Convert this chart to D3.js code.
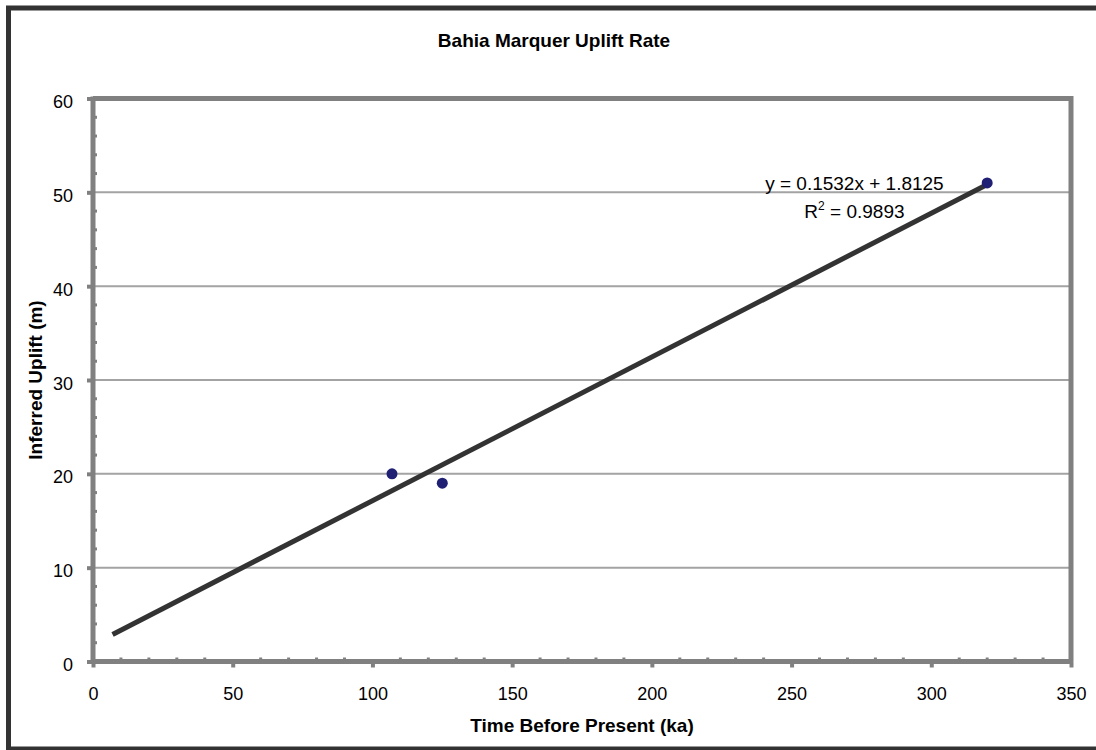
<!DOCTYPE html>
<html>
<head>
<meta charset="utf-8">
<script src="https://cdn.jsdelivr.net/npm/d3@7"></script>
<style>
  html, body { margin: 0; padding: 0; background: #fff; }
  svg { display: block; font-family: "Liberation Sans", Arial, sans-serif; }
</style>
</head>
<body>
<svg id="chart" width="1096" height="750"></svg>
<script>
// Observations: age (ka) and inferred uplift (m)
const timeKa = [107, 125, 320];
const upliftM = [20, 19, 51];

// Linear trendline, extended 100 ka backward from the oldest-first sample
const trendSlope = 0.1532;
const trendIntercept = 1.8125;
const trendFrom = 7;
const trendTo = 320;
const rSquared = 0.9893;

// Axis ticks
const xTicks = [0, 50, 100, 150, 200, 250, 300, 350];
const yTicks = [0, 10, 20, 30, 40, 50, 60];
const xMinorStep = 10;
const yMinorStep = 2;

const titleText = "Bahia Marquer Uplift Rate";
const xLabel = "Time Before Present (ka)";
const yLabel = "Inferred Uplift (m)";

const svg = d3.select("#chart");
const W = 1096, H = 750;
const plot = { left: 93, right: 1071, top: 98.5, bottom: 661.5 };

const x = d3.scaleLinear().domain([0, 350]).range([plot.left, plot.right]);
const y = d3.scaleLinear().domain([0, 60]).range([plot.bottom, plot.top]);

const axisGray = "#808080";
const gridGray = "#a3a3a3";

// Outer chart frame
svg.append("rect")
  .attr("x", 8.5).attr("y", 8)
  .attr("width", 1100).attr("height", 741)
  .attr("fill", "#fff")
  .attr("stroke", "#333").attr("stroke-width", 5);

// Title
svg.append("text")
  .attr("x", 554).attr("y", 47)
  .attr("text-anchor", "middle")
  .attr("font-size", 19).attr("font-weight", "bold")
  .attr("fill", "#000")
  .text(titleText);

// Horizontal gridlines
svg.append("g").selectAll("line")
  .data(yTicks.filter(v => v > 0 && v < 60))
  .join("line")
  .attr("x1", plot.left).attr("x2", plot.right)
  .attr("y1", d => y(d)).attr("y2", d => y(d))
  .attr("stroke", gridGray).attr("stroke-width", 2);

// Plot area border on top and right
svg.append("path")
  .attr("d", `M${plot.left},${plot.top}H${plot.right}V${plot.bottom}`)
  .attr("fill", "none")
  .attr("stroke", axisGray).attr("stroke-width", 5)
  .attr("stroke-linejoin", "miter");

// Minor ticks (inside the plot area)
const xMinor = d3.range(0, 350 + 1e-9, xMinorStep).filter(v => v % 50 !== 0);
svg.append("g").selectAll("line")
  .data(xMinor)
  .join("line")
  .attr("x1", d => x(d)).attr("x2", d => x(d))
  .attr("y1", plot.bottom).attr("y2", plot.bottom - 4)
  .attr("stroke", axisGray).attr("stroke-width", 3);

const yMinor = d3.range(0, 60 + 1e-9, yMinorStep).filter(v => v % 10 !== 0);
svg.append("g").selectAll("line")
  .data(yMinor)
  .join("line")
  .attr("x1", plot.left).attr("x2", plot.left + 4)
  .attr("y1", d => y(d)).attr("y2", d => y(d))
  .attr("stroke", axisGray).attr("stroke-width", 3);

// Bottom axis
const xAxis = d3.axisBottom(x)
  .tickValues(xTicks)
  .tickFormat(d3.format("d"))
  .tickSizeInner(6).tickSizeOuter(0).tickPadding(20);
const gx = svg.append("g")
  .attr("transform", `translate(0,${plot.bottom})`)
  .call(xAxis);
gx.select(".domain")
  .attr("stroke", axisGray).attr("stroke-width", 5)
  .attr("d", `M${plot.left - 2},0H${plot.right + 2}`);
gx.selectAll(".tick line").attr("stroke", axisGray).attr("stroke-width", 4);
gx.selectAll(".tick text")
  .attr("font-size", 18).attr("fill", "#000")
  .attr("font-family", "'Liberation Sans', Arial, sans-serif");

// Left axis
const yAxis = d3.axisLeft(y)
  .tickValues(yTicks)
  .tickFormat(d3.format("d"))
  .tickSizeInner(6).tickSizeOuter(0).tickPadding(14);
const gy = svg.append("g")
  .attr("transform", `translate(${plot.left},0)`)
  .call(yAxis);
gy.select(".domain")
  .attr("stroke", axisGray).attr("stroke-width", 5)
  .attr("d", `M0,${plot.bottom + 2}V${plot.top - 2}`);
gy.selectAll(".tick line").attr("stroke", axisGray).attr("stroke-width", 4);
gy.selectAll(".tick text")
  .attr("font-size", 18).attr("fill", "#000")
  .attr("dy", "0.5em")
  .attr("font-family", "'Liberation Sans', Arial, sans-serif");

// Axis titles
svg.append("text")
  .attr("x", (plot.left + plot.right) / 2).attr("y", 732)
  .attr("text-anchor", "middle")
  .attr("font-size", 19).attr("font-weight", "bold")
  .text(xLabel);

svg.append("text")
  .attr("transform", `translate(42,${(plot.top + plot.bottom) / 2}) rotate(-90)`)
  .attr("text-anchor", "middle")
  .attr("font-size", 19).attr("font-weight", "bold")
  .text(yLabel);

// Trendline
const trend = [trendFrom, trendTo].map(t => ({ t, u: trendSlope * t + trendIntercept }));
svg.append("path")
  .datum(trend)
  .attr("d", d3.line().x(d => x(d.t)).y(d => y(d.u)))
  .attr("fill", "none")
  .attr("stroke", "#333").attr("stroke-width", 5);

// Data points
svg.append("g").selectAll("circle")
  .data(timeKa.map((t, i) => ({ t, u: upliftM[i] })))
  .join("circle")
  .attr("cx", d => x(d.t)).attr("cy", d => y(d.u))
  .attr("r", 5.5)
  .attr("fill", "#1f1f74");

// Regression equation
const eqX = x(272.5);
const eqY = y(50) - 2;
svg.append("text")
  .attr("x", eqX).attr("y", eqY)
  .attr("text-anchor", "middle")
  .attr("font-size", 19)
  .text(`y = ${trendSlope}x + ${trendIntercept}`);

const r2 = svg.append("text")
  .attr("x", eqX).attr("y", eqY + 28)
  .attr("text-anchor", "middle")
  .attr("font-size", 19);
r2.append("tspan").text("R");
r2.append("tspan").attr("font-size", 12).attr("dy", -8).text("2");
r2.append("tspan").attr("dy", 8).text(` = ${rSquared}`);
</script>
</body>
</html>
